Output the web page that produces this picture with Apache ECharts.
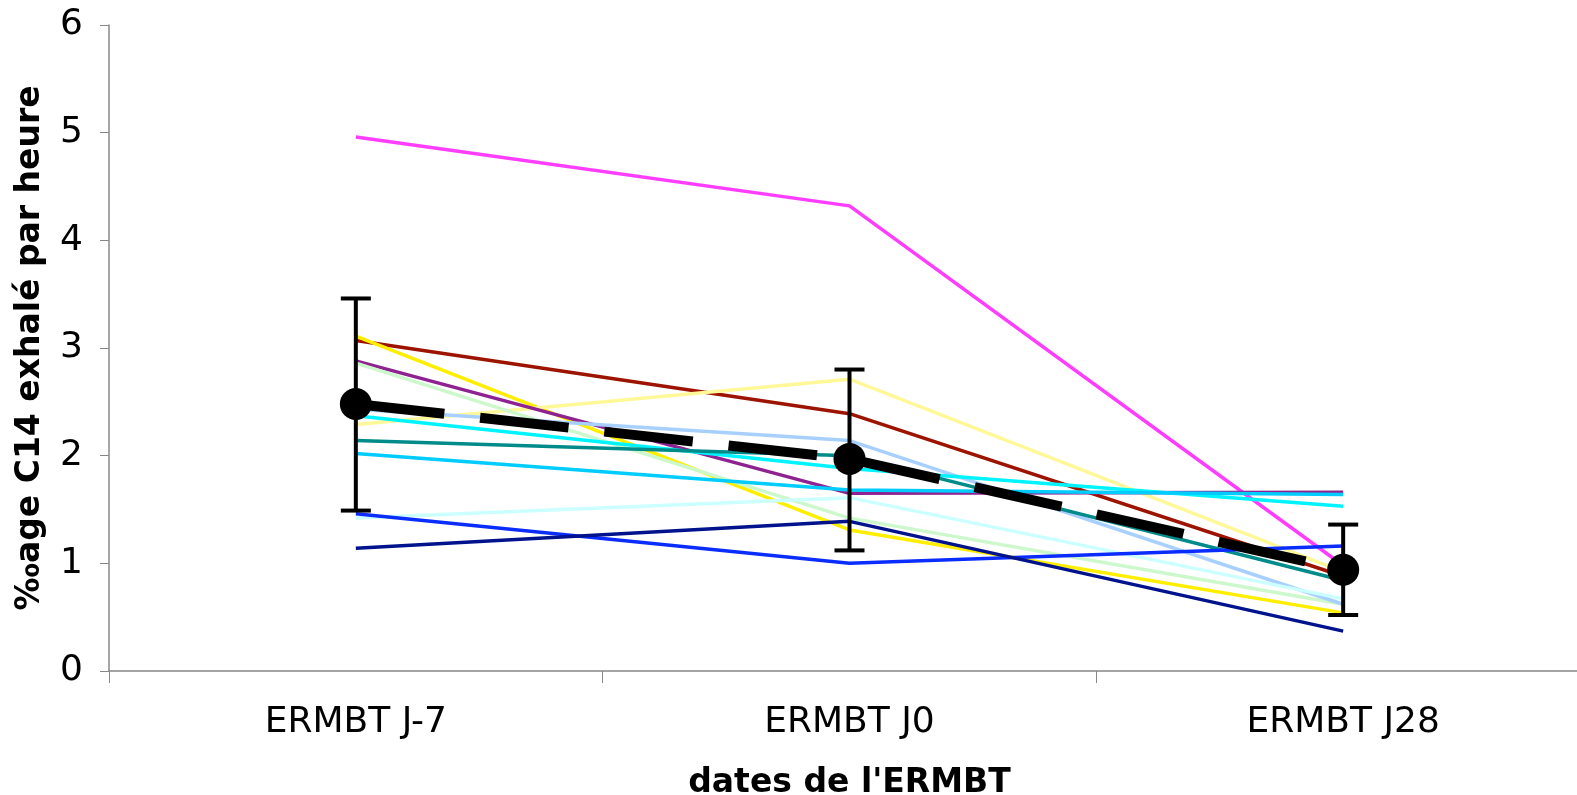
<!DOCTYPE html>
<html>
<head>
<meta charset="utf-8">
<script src="https://cdn.jsdelivr.net/npm/echarts@6/dist/echarts.min.js"></script>
<style>
  html, body { margin: 0; padding: 0; background: #fff; }
  #chart { width: 1577px; height: 795px; }
</style>
</head>
<body>
<div id="chart"></div>
<script>
const categories = ['ERMBT J-7', 'ERMBT J0', 'ERMBT J28']
const yTicks = [0, 1, 2, 3, 4, 5, 6]

// one line per patient
const patients = [
  [4.96, 4.32, 0.98],
  [3.07, 2.39, 0.88],
  [3.11, 1.31, 0.54],
  [2.29, 2.71, 0.92],
  [2.88, 1.65, 1.66],
  [2.86, 1.42, 0.62],
  [2.43, 2.14, 0.62],
  [2.37, 1.88, 1.53],
  [2.14, 2.00, 0.84],
  [2.02, 1.68, 1.64],
  [1.42, 1.61, 0.67],
  [1.46, 1.00, 1.16],
  [1.14, 1.39, 0.37]
]
const patientColors = [
  '#ff3dff', '#9c1400', '#ffee00', '#fff899', '#8e2290', '#ccf8cc', '#a8d0ff',
  '#00f4ff', '#008b8b', '#00ccff', '#ccffff', '#0a2cff', '#00128c'
]

const meanValues = [2.48, 1.97, 0.94]
const errLow = [1.49, 1.12, 0.52]
const errHigh = [3.46, 2.80, 1.36]

const chart = echarts.init(document.getElementById('chart'))

const series = patients.map((vals, i) => ({
  type: 'line',
  data: vals,
  symbol: 'none',
  lineStyle: { color: patientColors[i], width: 3.5 },
  z: 2,
  silent: true
}))

// moyenne : tirets longs + gros points
series.push({
  type: 'line',
  data: meanValues,
  symbol: 'circle',
  symbolSize: 32,
  itemStyle: { color: '#000' },
  lineStyle: { color: '#000', width: 10, type: [89, 36], cap: 'butt', dashOffset: 0 },
  z: 5
})

series.push({
  type: 'custom',
  data: categories.map((c, i) => [i, errLow[i], errHigh[i]]),
  renderItem: (params, api) => {
    const lo = api.coord([api.value(0), api.value(1)])
    const hi = api.coord([api.value(0), api.value(2)])
    const w = 15
    const style = { stroke: '#000', lineWidth: 4 }
    return {
      type: 'group',
      children: [
        { type: 'line', shape: { x1: lo[0], y1: lo[1], x2: hi[0], y2: hi[1] }, style },
        { type: 'line', shape: { x1: lo[0] - w, y1: lo[1], x2: lo[0] + w, y2: lo[1] }, style },
        { type: 'line', shape: { x1: hi[0] - w, y1: hi[1], x2: hi[0] + w, y2: hi[1] }, style }
      ]
    }
  },
  z: 6
})

chart.setOption({
  animation: false,
  grid: { left: 109, right: -13, top: 25, bottom: 124, outerBoundsMode: 'none', containLabel: false },
  textStyle: { fontFamily: 'DejaVu Sans' },
  xAxis: {
    type: 'category',
    data: categories,
    boundaryGap: true,
    name: "dates de l'ERMBT",
    nameLocation: 'middle',
    nameGap: 96,
    nameTextStyle: { fontSize: 33, fontWeight: 'bold', color: '#000', fontFamily: 'DejaVu Sans' },
    axisLine: { lineStyle: { color: '#888', width: 1.5 } },
    axisTick: { show: true, length: 12, interval: 0, lineStyle: { color: '#888' } },
    axisLabel: { fontSize: 36, color: '#000', margin: 34, fontFamily: 'DejaVu Sans' }
  },
  yAxis: {
    type: 'value',
    min: yTicks[0],
    max: yTicks[yTicks.length - 1],
    interval: 1,
    name: '‰age C14 exhalé par heure',
    nameLocation: 'middle',
    nameGap: 62,
    nameTextStyle: { fontSize: 33, fontWeight: 'bold', color: '#000', fontFamily: 'DejaVu Sans' },
    axisLine: { show: true, lineStyle: { color: '#888', width: 1.5 } },
    axisTick: { show: true, length: 9, lineStyle: { color: '#888' } },
    splitLine: { show: false },
    axisLabel: { fontSize: 36, color: '#000', margin: 26, fontFamily: 'DejaVu Sans' }
  },
  series
})
</script>
</body>
</html>
